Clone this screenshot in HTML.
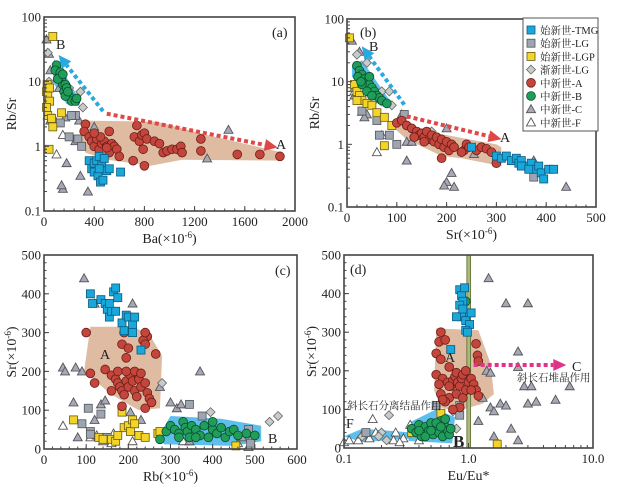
<!DOCTYPE html>
<html><head><meta charset="utf-8"><style>
html,body{margin:0;padding:0;background:#fff}
svg{display:block}
text{font-family:"Liberation Serif","Noto Serif CJK SC",serif;fill:#222}
</style></head><body>
<svg id="c" width="623" height="492" viewBox="0 0 623 492" xmlns="http://www.w3.org/2000/svg"></svg>
<script>
// ---- data ----
const aTMG=[[360,0.6],[380,0.45],[400,0.55],[420,0.6],[440,0.7],[460,0.5],[480,0.65],[400,0.4],[430,0.35],[450,0.28],[470,0.3],[500,0.42],[520,0.45],[610,0.4],[440,0.45]];
const aLG=[[130,2.3],[200,1.4],[270,1.3],[300,1.0],[250,3.0],[220,3.0]];
const aLGP=[[70,50],[25,9],[20,7],[30,6],[45,5],[20,4],[30,3],[60,2.7],[70,2.0],[40,0.9],[140,3.3],[45,8]];
const aDia=[[30,28],[290,7],[310,4],[200,8],[40,10]];
const aA=[[330,2.2],[320,1.7],[360,1.4],[380,1.2],[400,1.0],[420,1.3],[440,0.9],[460,1.1],[480,1.2],[500,1.0],[520,0.8],[540,1.1],[560,1.0],[580,0.9],[600,0.7],[520,1.7],[450,1.4],[740,2.1],[720,1.4],[760,1.2],[780,1.5],[800,1.6],[820,1.3],[790,0.9],[800,0.5],[710,0.6],[880,1.2],[920,1.1],[950,0.8],[980,0.85],[1020,0.9],[1060,0.9],[1090,1.0],[1100,0.8],[1250,1.3],[1250,0.85],[1540,0.75],[1720,0.75],[1880,0.7],[400,1.6],[500,0.95]];
const aB=[[100,18],[90,15],[120,12],[140,11],[150,9],[170,9],[160,7],[180,8],[200,6],[220,5],[250,5],[260,5.5],[170,6],[130,14],[110,11],[150,13],[190,7]];
const aC=[[20,45],[40,27],[50,15],[120,8],[30,3],[50,2.5],[180,0.55],[290,0.35],[150,0.22],[140,0.25],[350,0.2],[400,2.0],[1470,1.8],[1300,0.65],[170,2.8],[280,2.5],[250,1.2]];
const aF=[[100,0.75],[150,1.5],[80,2.7],[40,5]];

const bTMG=[[250,0.9],[300,0.65],[310,0.6],[320,0.65],[330,0.55],[340,0.6],[345,0.5],[350,0.55],[360,0.45],[370,0.5],[380,0.4],[385,0.45],[390,0.35],[395,0.28],[405,0.4],[415,0.4],[350,0.45],[365,0.4]];
const bLG=[[60,2.4],[100,1.0],[65,1.4],[85,1.4],[115,3.0],[375,0.3],[30,3.4]];
const bLGP=[[5,50],[15,9],[20,7],[25,6],[30,5],[40,4.5],[50,4.2],[60,3.2],[75,2.7],[90,2.0],[75,0.95],[20,5]];
const bDia=[[20,27],[40,20],[70,7],[85,7],[90,4.2],[55,5],[170,1.6]];
const bA=[[100,2.2],[110,2.4],[120,2.0],[130,1.8],[140,1.6],[145,1.4],[150,1.5],[155,1.3],[160,1.6],[165,1.2],[170,1.4],[175,1.1],[180,1.3],[185,1.0],[190,1.2],[195,0.9],[200,1.1],[205,0.8],[210,1.0],[190,0.6],[235,0.8],[240,1.0],[245,0.9],[260,0.8],[270,0.9],[280,0.85],[290,0.75],[300,0.5],[230,0.75],[155,1.1],[135,1.3],[215,0.9]];
const bB=[[20,18],[25,15],[30,13],[22,12],[35,11],[40,10],[45,9],[50,8],[55,7],[60,6],[65,5.5],[70,5],[80,4.5],[30,9],[40,7],[50,6],[45,12],[28,10]];
const bC=[[10,45],[25,30],[15,8],[15,6],[30,3.3],[40,3.0],[35,2.7],[120,0.55],[200,1.8],[210,0.35],[200,0.25],[195,0.22],[215,0.21],[255,0.7],[375,0.55],[440,0.21],[110,3.0],[120,1.1],[130,1.1]];
const bF=[[60,0.75],[70,1.4],[15,7]];

const cTMG=[[110,400],[115,375],[135,385],[145,375],[150,360],[155,340],[160,355],[165,405],[170,415],[175,390],[170,355],[185,325],[190,305],[195,345],[200,340],[210,320],[215,340],[210,300],[230,255],[155,375]];
const cA=[[100,300],[190,300],[110,195],[120,170],[145,205],[160,190],[170,180],[175,170],[180,160],[185,150],[190,140],[195,175],[200,160],[205,190],[210,175],[215,150],[220,135],[225,180],[230,160],[240,170],[245,145],[250,130],[255,120],[245,290],[235,280],[240,300],[240,270],[265,245],[185,270],[195,235],[200,260],[185,110],[175,200],[195,200],[215,200],[230,195],[240,105],[160,150]];
const cB=[[275,25],[290,45],[300,60],[310,50],[320,40],[330,70],[335,55],[340,45],[345,30],[350,60],[360,50],[370,35],[380,60],[390,30],[400,50],[410,40],[420,55],[430,30],[440,45],[450,50],[460,35],[480,40],[500,35],[320,30],[360,30],[400,70]];
const cLG=[[90,65],[105,105],[110,45],[135,90],[140,25],[150,30],[345,115],[375,85],[485,50],[490,15],[110,38]];
const cLGP=[[70,75],[130,30],[160,25],[170,20],[185,95],[190,55],[200,60],[205,45],[210,75],[215,65],[225,35],[240,30],[270,40],[275,45],[455,8],[175,35],[140,25]];
const cDia=[[280,170],[395,95],[535,70],[555,85],[490,20],[320,40]];
const cC=[[95,440],[120,375],[210,375],[90,200],[45,210],[75,210],[50,200],[70,120],[135,115],[145,125],[275,160],[370,200],[300,120],[315,105],[325,115],[230,75],[205,95],[80,30],[120,75],[470,30],[345,20]];
const cF=[[45,60],[110,30],[125,35],[140,20],[165,40],[210,20],[345,20],[460,15],[485,5],[330,20],[160,15]];

const dTMG=[[0.85,410],[0.88,395],[0.9,380],[0.85,370],[0.92,350],[0.88,340],[0.95,330],[0.8,340],[1.05,350],[1.02,320],[0.95,305],[0.98,300],[0.72,255],[0.9,360],[0.93,415]];
const dA=[[0.6,300],[0.58,275],[0.65,280],[0.55,245],[0.6,230],[0.7,210],[0.55,190],[0.62,180],[0.68,170],[0.72,160],[0.75,175],[0.78,185],[0.8,195],[0.82,170],[0.85,160],[0.88,180],[0.9,190],[0.95,200],[1.0,170],[1.05,180],[1.1,165],[1.15,150],[1.2,135],[1.18,240],[1.15,270],[1.2,225],[0.6,140],[0.7,130],[0.65,120],[0.8,140],[0.9,130],[0.95,150],[0.85,105],[0.75,100],[0.7,160],[0.58,165],[0.62,125],[1.05,150]];
const dB=[[0.35,50],[0.38,40],[0.4,60],[0.42,30],[0.45,55],[0.48,45],[0.5,65],[0.52,35],[0.55,50],[0.58,40],[0.6,70],[0.62,30],[0.65,55],[0.68,45],[0.7,35],[0.45,30],[0.5,45],[0.55,65],[0.6,55],[0.4,45],[0.65,75],[0.72,50],[0.9,340],[0.95,380]];
const dLG=[[0.15,40],[0.55,110],[0.85,110],[0.85,85],[0.6,50]];
const dLGP=[[0.6,90],[0.35,40],[1.7,10],[0.55,40]];
const dDia=[[0.23,85],[0.2,40],[0.19,30],[0.22,20],[0.14,30],[0.75,95],[0.8,50]];
const dC=[[1.45,440],[2.0,375],[3.0,375],[2.5,250],[2.5,210],[1.4,200],[1.5,195],[2.8,160],[3.2,160],[1.3,130],[1.5,105],[1.8,115],[2.0,110],[3.0,115],[3.5,120],[5.0,125],[6.5,160],[1.6,95],[2.2,50],[1.6,30],[2.5,20],[1.2,70]];
const dF=[[0.1,15],[0.11,20],[0.17,75],[0.16,25],[0.18,40],[0.26,40],[0.25,20],[0.3,25],[0.28,15],[0.34,60],[0.4,20],[0.13,20],[0.14,35]];

const xTicksA=[0,400,800,1200,1600,2000];
const xTicksB=[0,100,200,300,400,500];
const xTicksC=[0,100,200,300,400,500,600];
const xTicksD=[0.1,1,10];
const xTickLabD=["0.1","1.0","10.0"];
const yTicksLog=[0.1,1,10,100];
const yTicksLin=[0,100,200,300,400,500];
const legendLabels=["始新世-TMG","始新世-LG","始新世-LGP","渐新世-LG","中新世-A","中新世-B","中新世-C","中新世-F"];

// envelopes (data coords)
const envA_A=[[300,2.5],[900,2.4],[1300,1.5],[1900,0.8],[1900,0.6],[1100,0.62],[850,0.5],[700,0.55],[500,0.62],[330,0.8],[300,1.2]];
const envA_B=[[80,22],[110,20],[290,5],[280,4.2],[180,4.5],[70,10]];
const envB_A=[[95,2.4],[180,1.5],[300,1.0],[310,0.9],[310,0.45],[230,0.6],[190,0.65],[120,1.2],[95,1.8]];
const envB_B=[[10,18],[30,22],[90,4.5],[70,4],[40,6],[10,12]];
const envC_A=[[110,315],[210,315],[250,295],[280,240],[275,105],[225,100],[160,140],[95,200]];
const envC_B=[[270,30],[300,85],[420,78],[515,60],[515,20],[450,8],[285,12]];
const envD_A=[[0.55,310],[1.2,305],[1.5,220],[1.6,140],[1.3,115],[0.8,95],[0.6,105],[0.53,150]];
const envD_B=[[0.33,65],[0.55,100],[0.78,80],[0.74,12],[0.33,18]];
const envD_F=[[0.1,30],[0.14,50],[0.35,40],[0.35,25],[0.14,15]];

// ---- drawing ----
const svg=document.getElementById('c');
const NS='http://www.w3.org/2000/svg';
function mk(tag,attrs,parent,name){const e=document.createElementNS(NS,tag);for(const k in attrs)e.setAttribute(k,attrs[k]);


(parent||svg).appendChild(e);return e;}
const ST={TMG:{s:'sq',f:'#1aa7d9',k:'#0d5a80'},LG:{s:'sq',f:'#9da5b3',k:'#555'},LGP:{s:'sq',f:'#f3d429',k:'#6a5a10'},Dia:{s:'di',f:'#c9cbc9',k:'#666'},A:{s:'ci',f:'#c3453c',k:'#6a1d18'},B:{s:'ci',f:'#1f9e5b',k:'#0d4a2a'},C:{s:'tr',f:'#a6a8b8',k:'#555'},F:{s:'tr',f:'#ffffff',k:'#555'}};
function marker(g,type,px,py,name){const t=ST[type];let e;
 if(t.s==='sq')e=mk('rect',{x:px-4,y:py-4,width:8,height:8,fill:t.f,stroke:t.k,'stroke-width':0.8},g,name);
 else if(t.s==='ci')e=mk('circle',{cx:px,cy:py,r:4.4,fill:t.f,stroke:t.k,'stroke-width':0.8},g,name);
 else if(t.s==='di')e=mk('polygon',{points:`${px},${py-4.5} ${px+4.5},${py} ${px},${py+4.5} ${px-4.5},${py}`,fill:t.f,stroke:t.k,'stroke-width':0.8},g,name);
 else e=mk('polygon',{points:`${px},${py-4.5} ${px+4.5},${py+3.5} ${px-4.5},${py+3.5}`,fill:t.f,stroke:t.k,'stroke-width':0.9},g,name);
 return e;}
function panel(cfg){
 const g=mk('g',{},svg,cfg.name);
 const {x0,x1,y0,y1}=cfg;
 const sx=cfg.xlog?v=>x0+(Math.log10(v)-Math.log10(cfg.xmin))/(Math.log10(cfg.xmax)-Math.log10(cfg.xmin))*(x1-x0):v=>x0+(v-cfg.xmin)/(cfg.xmax-cfg.xmin)*(x1-x0);
 const sy=cfg.ylog?v=>y1-(Math.log10(v)-Math.log10(cfg.ymin))/(Math.log10(cfg.ymax)-Math.log10(cfg.ymin))*(y1-y0):v=>y1-(v-cfg.ymin)/(cfg.ymax-cfg.ymin)*(y1-y0);
 (cfg.env||[]).forEach(([pts,col],i)=>mk('polygon',{points:pts.map(p=>sx(p[0])+','+sy(p[1])).join(' '),fill:col,'stroke':'none'},g,'envelope-'+i));
 if(cfg.pre)cfg.pre(g,sx,sy);
 const order=['F','C','Dia','LG','LGP','B','A','TMG'];
 order.forEach(k=>{if(cfg.series[k])cfg.series[k].forEach(p=>marker(g,k,sx(p[0]),sy(p[1]),'point-'+k.toLowerCase()));});
 mk('rect',{x:x0,y:y0,width:x1-x0,height:y1-y0,fill:'none',stroke:'#444','stroke-width':1.6},g,'plot-frame');
 cfg.xt.forEach((v,i)=>{const px=sx(v);mk('line',{x1:px,y1:y1,x2:px,y2:y1-5,stroke:'#444'},g,'x-tick');
  const t=mk('text',{x:px,y:y1+15,'font-size':13,'text-anchor':'middle'},g,'x-tick-label');t.textContent=cfg.xl?cfg.xl[i]:v;});
 if(cfg.xlog){for(let d=0.1;d<10;d*=10)for(let m=2;m<10;m++){const px=sx(d*m);mk('line',{x1:px,y1:y1,x2:px,y2:y1-3,stroke:'#444'},g,'x-minor-tick');}}
 else{const st=(cfg.xt[1]-cfg.xt[0])/5;for(let v=cfg.xmin;v<=cfg.xmax;v+=st){mk('line',{x1:sx(v),y1:y1,x2:sx(v),y2:y1-2.5,stroke:'#444'},g,'x-minor-tick');}}
 cfg.yt.forEach(v=>{const py=sy(v);mk('line',{x1:x0,y1:py,x2:x0+5,y2:py,stroke:'#444'},g,'y-tick');
  const t=mk('text',{x:x0-3,y:py+4.5,'font-size':13,'text-anchor':'end'},g,'y-tick-label');t.textContent=v;});
 if(cfg.ylog){for(let d=0.1;d<100;d*=10)for(let m=2;m<10;m++){const py=sy(d*m);mk('line',{x1:x0,y1:py,x2:x0+3,y2:py,stroke:'#444'},g,'y-minor-tick');}}
 else{for(let v=0;v<=500;v+=20)mk('line',{x1:x0,y1:sy(v),x2:x0+2.5,y2:sy(v),stroke:'#444'},g,'y-minor-tick');}
 const xt=mk('text',{x:(x0+x1)/2,y:y1+32,'font-size':14,'text-anchor':'middle'},g,'x-axis-title');xt.innerHTML=cfg.xtitle;
 const yt=mk('text',{x:0,y:0,'font-size':14,'text-anchor':'middle',transform:`translate(${x0-28},${(y0+y1)/2}) rotate(-90)`},g,'y-axis-title');yt.innerHTML=cfg.ytitle;
 const pl=mk('text',{x:cfg.lx,y:cfg.ly,'font-size':14},g,'panel-label');pl.textContent=cfg.label;
 if(cfg.post)cfg.post(g,sx,sy);
 return cfg;}
function arrow(g,xa,ya,xb,yb,col,name){mk('line',{x1:xa,y1:ya,x2:xb,y2:yb,stroke:col,'stroke-width':4,'stroke-dasharray':'4 3'},g,name);
 const a=Math.atan2(yb-ya,xb-xa),L=13,W=6;const hx=xb+Math.cos(a)*L,hy=yb+Math.sin(a)*L;
 mk('polygon',{points:`${hx},${hy} ${xb-Math.sin(a)*W},${yb+Math.cos(a)*W} ${xb+Math.sin(a)*W},${yb-Math.cos(a)*W}`,fill:col},g,name+'-head');}
function txt(g,x,y,s,size,name,extra){const t=mk('text',Object.assign({x:x,y:y,'font-size':size},extra||{}),g,name);t.textContent=s;return t;}
const sup='(×10<tspan font-size="9" dy="-5">-6</tspan><tspan dy="5">)</tspan>';
const brown='rgba(205,150,110,0.65)',blue='rgba(40,170,230,0.75)';

panel({name:'panel-a',x0:44,x1:295,y0:17,y1:211,xmin:0,xmax:2000,ymin:0.1,ymax:100,ylog:true,xt:xTicksA,yt:yTicksLog,
 xtitle:'Ba'+sup,ytitle:'Rb/Sr',label:'(a)',lx:272,ly:37,env:[[envA_A,brown],[envA_B,blue]],
 series:{TMG:aTMG,LG:aLG,LGP:aLGP,Dia:aDia,A:aA,B:aB,C:aC,F:aF},
 post:(g,sx,sy)=>{arrow(g,sx(470),sy(3.5),sx(180),sy(18),'#2aa8e0','arrow-b');arrow(g,sx(500),sy(3.2),sx(1760),sy(1.05),'#e04848','arrow-a');
  txt(g,56,49,'B',14,'label-b');txt(g,276,149,'A',14,'label-a');}});
panel({name:'panel-b',x0:347,x1:596,y0:19,y1:207,xmin:0,xmax:500,ymin:0.1,ymax:100,ylog:true,xt:xTicksB,yt:yTicksLog,
 xtitle:'Sr'+sup,ytitle:'Rb/Sr',label:'(b)',lx:360,ly:37,env:[[envB_A,brown],[envB_B,blue]],
 series:{TMG:bTMG,LG:bLG,LGP:bLGP,Dia:bDia,A:bA,B:bB,C:bC,F:bF},
 post:(g,sx,sy)=>{arrow(g,sx(115),sy(4.3),sx(45),sy(25),'#2aa8e0','arrow-b');arrow(g,sx(120),sy(2.8),sx(285),sy(1.35),'#e04848','arrow-a');
  txt(g,369,51,'B',14,'label-b');txt(g,500,142,'A',14,'label-a');
  const lg=mk('g',{},g,'legend');mk('rect',{x:523,y:18,width:75,height:113,fill:'#fff',stroke:'#555','stroke-width':1},lg,'legend-box');
  const keys=['TMG','LG','LGP','Dia','A','B','C','F'];
  keys.forEach((k,i)=>{const y=30+i*13.2;marker(lg,k,531,y,'legend-marker');
   txt(lg,540,y+4,legendLabels[i],10.5,'legend-entry');});}});
panel({name:'panel-c',x0:44,x1:297,y0:255,y1:449,xmin:0,xmax:600,ymin:0,ymax:500,xt:xTicksC,yt:yTicksLin,
 xtitle:'Rb'+sup,ytitle:'Sr'+sup,label:'(c)',lx:275,ly:275,env:[[envC_A,brown],[envC_B,blue]],
 series:{TMG:cTMG,LG:cLG,LGP:cLGP,Dia:cDia,A:cA,B:cB,C:cC,F:cF},
 post:(g)=>{txt(g,100,359,'A',14,'label-a');txt(g,268,443,'B',14,'label-b');}});
panel({name:'panel-d',x0:344,x1:593,y0:255,y1:448,xmin:0.1,xmax:10,xlog:true,ymin:0,ymax:500,xt:xTicksD,xl:xTickLabD,yt:yTicksLin,
 xtitle:'Eu/Eu*',ytitle:'Sr'+sup,label:'(d)',lx:350,ly:274,env:[[envD_A,brown],[envD_B,blue],[envD_F,blue]],
 series:{TMG:dTMG,LG:dLG,LGP:dLGP,Dia:dDia,A:dA,B:dB,C:dC,F:dF},
 pre:(g,sx)=>{mk('rect',{x:sx(0.97),y:255,width:sx(1.04)-sx(0.97),height:193,fill:'#a9b97a',stroke:'#5e6b33','stroke-width':0.8},g,'eu-anomaly-band');},
 post:(g,sx,sy)=>{arrow(g,sx(1.1),sy(215),sx(4.8),sy(215),'#e0338a','arrow-c');
  txt(g,572,371,'C',14,'label-c');txt(g,445,362,'A',14,'label-a');txt(g,346,428,'F',14,'label-f');
  txt(g,453,447,'B',17,'label-b',{'font-weight':'bold','font-family':'Liberation Sans, sans-serif'});
  txt(g,517,381,'斜长石堆晶作用',10.5,'annotation-accumulation',{'font-family':'Noto Sans CJK SC, sans-serif'});
  txt(g,347,409,'斜长石分离结晶作用',10.5,'annotation-fractionation',{'font-family':'Noto Sans CJK SC, sans-serif'});}});
</script>
</body></html>
